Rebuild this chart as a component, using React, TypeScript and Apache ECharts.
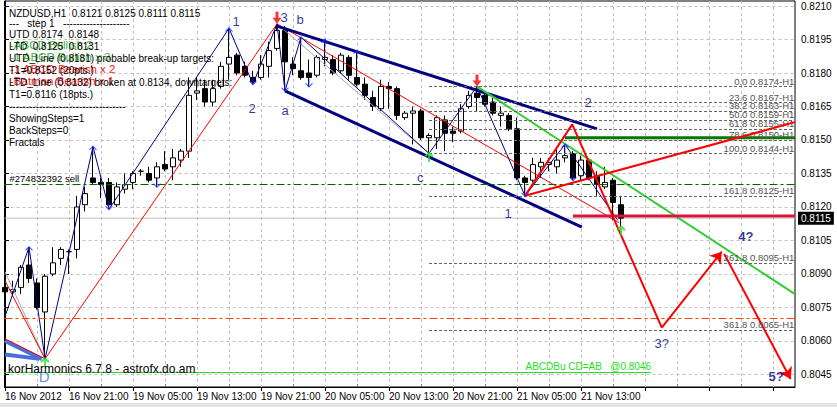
import React, { useEffect, useRef } from 'react';
import * as echarts from 'echarts';

// ---- candles (H1 bars, index 0 = 16 Nov 13:00) ----
const opens = [0.8084,0.8082,0.8084,0.8094,0.8086,0.8073,0.8090,0.8097,0.8100,0.8101,0.8121,0.8133,0.8131,0.8131,0.8121,0.8128,0.8131,0.8136,0.8135,0.8133,0.8139,0.8138,0.8141,0.8145,0.8171,0.8173,0.8167,0.8174,0.8184,0.8188,0.8183,0.8178,0.8178,0.8183,0.8191,0.8199,0.8184,0.8181,0.8180,0.8179,0.8186,0.8186,0.8181,0.8187,0.8178,0.8175,0.8169,0.8164,0.8174,0.8173,0.8160,0.8162,0.8163,0.8151,0.8151,0.8159,0.8154,0.8154,0.8165,0.8171,0.8170,0.8167,0.8161,0.8161,0.8155,0.8133,0.8132,0.8138,0.8139,0.8138,0.8142,0.8144,0.8134,0.8141,0.8134,0.8129,0.8132,0.8121];
const highs = [0.8086,0.8087,0.8094,0.8102,0.8088,0.8090,0.8102,0.8102,0.8101,0.8125,0.8129,0.8147,0.8133,0.8133,0.8131,0.8135,0.8136,0.8137,0.8138,0.8140,0.8145,0.8146,0.8146,0.8178,0.8178,0.8177,0.8177,0.8185,0.8200,0.8189,0.8185,0.8181,0.8188,0.8194,0.8202,0.8201,0.8187,0.8196,0.8186,0.8188,0.8195,0.8188,0.8189,0.8188,0.8190,0.8178,0.8172,0.8177,0.8176,0.8174,0.8163,0.8165,0.8164,0.8153,0.8161,0.8161,0.8156,0.8166,0.8172,0.8174,0.8172,0.8169,0.8165,0.8162,0.8160,0.8134,0.8142,0.8142,0.8142,0.8147,0.8148,0.8145,0.8143,0.8142,0.8136,0.8138,0.8133,0.8125];
const lows = [0.8080,0.8080,0.8081,0.8086,0.8074,0.8052,0.8089,0.8094,0.8090,0.8097,0.8118,0.8130,0.8124,0.8119,0.8120,0.8126,0.8128,0.8134,0.8131,0.8129,0.8136,0.8132,0.8138,0.8142,0.8168,0.8165,0.8165,0.8173,0.8177,0.8179,0.8178,0.8175,0.8177,0.8178,0.8190,0.8172,0.8179,0.8177,0.8174,0.8178,0.8183,0.8179,0.8180,0.8177,0.8174,0.8168,0.8163,0.8163,0.8164,0.8159,0.8159,0.8148,0.8150,0.8144,0.8146,0.8145,0.8149,0.8153,0.8164,0.8163,0.8165,0.8161,0.8156,0.8154,0.8132,0.8125,0.8131,0.8133,0.8136,0.8135,0.8140,0.8132,0.8132,0.8132,0.8125,0.8128,0.8114,0.8111];
const closes = [0.8082,0.8083,0.8093,0.8088,0.8075,0.8089,0.8095,0.8101,0.8100,0.8120,0.8126,0.8131,0.8130,0.8121,0.8129,0.8130,0.8135,0.8136,0.8132,0.8138,0.8137,0.8142,0.8145,0.8170,0.8172,0.8167,0.8173,0.8183,0.8187,0.8180,0.8179,0.8176,0.8184,0.8190,0.8199,0.8185,0.8182,0.8178,0.8178,0.8187,0.8187,0.8180,0.8188,0.8179,0.8175,0.8170,0.8165,0.8174,0.8173,0.8161,0.8162,0.8163,0.8151,0.8152,0.8160,0.8153,0.8153,0.8164,0.8170,0.8169,0.8166,0.8162,0.8162,0.8155,0.8133,0.8131,0.8139,0.8140,0.8140,0.8141,0.8143,0.8133,0.8141,0.8133,0.8130,0.8131,0.8122,0.8115];

// ---- axes ----
const timeLabels = ['16 Nov 2012','16 Nov 21:00','19 Nov 05:00','19 Nov 13:00','19 Nov 21:00','20 Nov 05:00','20 Nov 13:00','20 Nov 21:00','21 Nov 05:00','21 Nov 13:00'];
const timeLabelBars = [0,8,16,24,32,40,48,56,64,72];
const majorTickBars = [0,8,16,24,32,40,48,56,64,72,80,88,96];
const minorTickBars = [4,12,20,28,36,44,52,60,68,76,84,92];
const priceTicks = [0.8045,0.8060,0.8075,0.8090,0.8105,0.8120,0.8135,0.8150,0.8165,0.8180,0.8195,0.8210];
const bidPrice = 0.8115;

// ---- overlays (bar index, price) ----
const zigzag = [[0,0.8071],[3,0.8102],[5,0.8052],[11,0.8147],[13,0.8119],[28,0.8200],[31,0.8175],[34,0.8202],[35,0.8172],[37,0.8196],[53,0.8144],[59,0.8174],[65,0.8125],[70,0.8148],[76.6,0.8114]];
const redThinA = [[0,0.8087],[5,0.8052]];
const redThinB = [[0,0.8061],[5,0.8052]];
const redThinC = [[5,0.8052],[34,0.8202]];
const redThinD = [[34,0.8202],[76.75,0.8113]];
const grayThinA = [[0,0.8091],[5,0.8052]];
const grayThinB = [[34,0.8202],[53,0.8144]];
const blueBandA = [[0,0.8060],[4.6,0.8052]];
const blueBandB = [[0,0.8054],[4.3,0.8052]];
const channelUpper = [[34,0.8201],[74,0.8155]];
const channelLower = [[35,0.8172],[72.1,0.8111]];
const greenTrend = [[59,0.8174],[98.75,0.8081]];
const greenLevel = [[70,0.8151],[98.75,0.8151]];
const targetLevel = [[71,0.8116],[98.75,0.8116]];
const redTriangle = [[65,0.8125],[70.9,0.8157],[82.1,0.8066]];
const redRising = [[65,0.8125],[98.75,0.8158]];
const projArrows = [[[82.1,0.8066],[89.6,0.8100]],[[89.9,0.8099],[98.2,0.8043]]];
const orderPrice = 0.8130;
const orderLabel = '#274832392 sell';
const orangePrice = 0.8070;
const abcdPrice = 0.8046;
const abcdEndBar = 80.75;
const abcdLabel = 'ABCDBu CD=AB   @0.8046';

const fibStartBar = 53;
const fibPct = [0,23.6,38.2,50,61.8,78.6,100,161.8,261.8,361.8];
const fibPrices = [0.8174,0.8167,0.8163,0.8159,0.8155,0.8150,0.8144,0.8125,0.8095,0.8065];

const waveText = ['1','2','3','b','a','c','1','2','3?','4?','5?','D'];
const waveBar = [28.9,30.9,34.9,36.9,35.0,51.9,62.9,72.9,82.1,92.6,96.4,4.9];
const wavePrice = [0.8203,0.8164,0.8205,0.8204,0.8163,0.8133,0.8117,0.8167,0.8059,0.8107,0.8044,0.8044];

const upFractals = [[3,0.8102],[11,0.8147],[28,0.8200],[37,0.8196],[40,0.8195],[44,0.8190],[70,0.8148]];
const downFractals = [[13,0.8119],[19,0.8129],[31,0.8175],[35,0.8172],[38,0.8174],[65,0.8125],[71,0.8132]];
const greenFractals = [[5,0.8052],[53,0.8144],[77,0.8111]];
const redArrows = [[34,0.8202],[59,0.8174]];

const infoLines = ['NZDUSD,H1\u00a0\u00a00.8121 0.8125 0.8111 0.8115','---\u00a0\u00a0\u00a0step 1\u00a0\u00a0\u00a0--------------------','UTD 0.8174\u00a0\u00a00.8148','LTD\u00a0\u00a00.8125\u00a0\u00a00.8131','UTD_Line (0.8181) probable break-up targets:','T1=0.8152 (20pts.)','LTD_Line (0.8132) broken at 0.8134, downtargets:','T1=0.8116 (18pts.)','-----------------------------------','ShowingSteps=1','BackSteps=0','Fractals'];
const patternLines = ['-ABCD Bullish 2','-1 ABCD Bullish x 3','-1 ABCD Bearish x 2','-Batman Bearish x 1'];
const patternColors = ['#3cb43c','#3cb43c','#ff2020','#ff2020'];
const footerText = 'korHarmonics 6.7.8 - astrofx.do.am';

const FONT = '"Liberation Sans", Arial, sans-serif';
const X_MIN = -0.0625, X_MAX = 98.75;
const Y_MIN = 0.80394, Y_MAX = 0.821224;

function seg(data: number[][], color: string, width: number, z = 3, type: any = 'solid') {
  return { type: 'line', data, symbol: 'none', silent: true, clip: true, z, lineStyle: { color, width, type }, animation: false };
}

const UP_PATH = 'path://M0,4 L4,0 L8,4 M4,0 L4,10';
const DOWN_PATH = 'path://M0,6 L4,10 L8,6 M4,10 L4,0';
const RED_ARROW = 'path://M3,0 L6,0 L6,6 L9,6 L4.5,12 L0,6 L3,6 Z';

export default function App() {
  const ref = useRef<HTMLDivElement>(null);
  useEffect(() => {
    const chart = echarts.init(ref.current!, undefined, { renderer: 'svg' });
    const candleData = opens.map((o, i) => [i, o, closes[i], lows[i], highs[i]]);
    const option: any = {
      animation: false,
      backgroundColor: '#ffffff',
      textStyle: { fontFamily: FONT },
      grid: { left: 4.5, right: 42, top: 1, bottom: 20, show: true, borderColor: '#000', borderWidth: 1, backgroundColor: '#fff' },
      xAxis: [
        {
          type: 'value', min: X_MIN, max: X_MAX, position: 'bottom',
          axisLine: { show: true, onZero: false, lineStyle: { color: '#000' } },
          axisTick: { show: true, customValues: majorTickBars, length: 4, lineStyle: { color: '#000' } },
          axisLabel: {
            show: true, customValues: timeLabelBars, align: 'left', margin: 4,
            fontSize: 10, color: '#000', fontFamily: FONT,
            formatter: (v: number) => timeLabels[timeLabelBars.indexOf(Math.round(v))] ?? '',
          },
          splitLine: { show: true, lineStyle: { color: '#c0c0c0', type: [3, 3] } },
        },
        {
          type: 'value', min: X_MIN, max: X_MAX, position: 'bottom',
          axisLine: { show: false, onZero: false },
          axisTick: { show: true, inside: true, customValues: minorTickBars, length: 3, lineStyle: { color: '#808080' } },
          axisLabel: { show: false },
          splitLine: { show: true, lineStyle: { color: '#c0c0c0', type: [3, 3] } },
        },
      ],
      yAxis: [
        {
          type: 'value', min: Y_MIN, max: Y_MAX, position: 'right',
          axisLine: { show: true, lineStyle: { color: '#000' } },
          axisTick: { show: true, customValues: priceTicks, length: 4, lineStyle: { color: '#000' } },
          axisLabel: { show: true, customValues: priceTicks, margin: 6, fontSize: 10, color: '#000', fontFamily: FONT, formatter: (v: number) => v.toFixed(4) },
          splitLine: { show: true, lineStyle: { color: '#c0c0c0', type: [3, 3] } },
        },
        {
          type: 'value', min: Y_MIN, max: Y_MAX, position: 'right',
          axisLine: { show: false }, axisTick: { show: false }, splitLine: { show: false },
          axisLabel: { show: true, customValues: [bidPrice], margin: 3, fontSize: 10, color: '#fff', backgroundColor: '#000', padding: [2, 3, 1, 3], fontFamily: FONT, formatter: (v: number) => v.toFixed(4) },
        },
      ],
      series: [
        {
          type: 'line', silent: true, symbol: 'none', z: 1,
          data: [[X_MIN, bidPrice], [X_MAX, bidPrice]],
          lineStyle: { color: '#c0c0c0', width: 1 },
          markLine: {
            silent: true, symbol: ['none', 'none'], animation: false,
            data: [
              ...fibPct.map((f, k) => [
                { coord: [fibStartBar, fibPrices[k]], lineStyle: { color: '#666', width: 1, type: [3, 2] },
                  label: { show: true, position: 'insideEndTop', distance: [-1, 0], formatter: `${f.toFixed(1)} ${fibPrices[k].toFixed(4)}-H1`, color: '#555', fontSize: 9.5, fontFamily: FONT } },
                { coord: [X_MAX - 0.2, fibPrices[k]] },
              ]),
              [
                { coord: [X_MIN, orderPrice], lineStyle: { color: '#006400', width: 1, type: [8, 3, 3, 3] },
                  label: { show: true, position: 'insideStartTop', distance: [5, 1], formatter: orderLabel, color: '#000', fontSize: 9.5, fontFamily: FONT } },
                { coord: [X_MAX, orderPrice] },
              ],
              [
                { coord: [X_MIN, orangePrice], lineStyle: { color: '#ff4500', width: 1, type: [8, 3, 3, 3] }, label: { show: false } },
                { coord: [X_MAX, orangePrice] },
              ],
              [
                { coord: [X_MIN, abcdPrice], lineStyle: { color: '#22dd22', width: 1, type: 'solid' },
                  label: { show: true, position: 'insideEndTop', distance: [0, 1], formatter: abcdLabel, color: '#22dd22', fontSize: 10, fontFamily: FONT } },
                { coord: [abcdEndBar, abcdPrice] },
              ],
            ],
          },
        },
        {
          type: 'candlestick', data: candleData, barWidth: 5, z: 2, silent: true, clip: true,
          itemStyle: { color: '#ffffff', color0: '#000000', borderColor: '#000000', borderColor0: '#000000', borderColorDoji: '#000000', borderWidth: 1 },
        },
        seg(blueBandA, '#4a6fdc', 4, 3),
        seg(blueBandB, '#4a6fdc', 4, 3),
        seg(grayThinA, '#a8a8a8', 1, 3),
        seg(grayThinB, '#a8a8a8', 1, 3),
        seg(redThinA, '#ff0000', 1, 3),
        seg(redThinB, '#ff0000', 1, 3),
        seg(redThinC, '#ff0000', 1, 3),
        seg(redThinD, '#ff0000', 1, 3),
        seg(zigzag, '#000080', 1, 4),
        seg(channelUpper, '#000080', 3, 4),
        seg(channelLower, '#000080', 3, 4),
        seg(greenTrend, '#32cd32', 2, 4),
        seg(greenLevel, '#007a00', 3, 4),
        seg(targetLevel, '#dc143c', 3, 4),
        seg(redTriangle, '#ff0000', 2, 5),
        seg(redRising, '#ff0000', 2, 5),
        {
          type: 'lines', coordinateSystem: 'cartesian2d', silent: true, z: 5,
          symbol: ['none', 'arrow'], symbolSize: 11,
          lineStyle: { color: '#ff0000', width: 2, opacity: 1, curveness: 0 },
          data: projArrows.map((c) => ({ coords: c })),
        },
        {
          type: 'scatter', silent: true, z: 6, symbol: UP_PATH, symbolSize: [7, 9], symbolOffset: [0, 4],
          itemStyle: { color: 'rgba(0,0,0,0)', borderColor: '#2030ff', borderWidth: 1 },
          data: upFractals,
        },
        {
          type: 'scatter', silent: true, z: 6, symbol: DOWN_PATH, symbolSize: [7, 9], symbolOffset: [0, -4],
          itemStyle: { color: 'rgba(0,0,0,0)', borderColor: '#2030ff', borderWidth: 1 },
          data: downFractals,
        },
        {
          type: 'scatter', silent: true, z: 6, symbol: UP_PATH, symbolSize: [8, 9], symbolOffset: [0, 4],
          itemStyle: { color: 'rgba(0,0,0,0)', borderColor: '#22dd22', borderWidth: 2 },
          data: greenFractals,
        },
        {
          type: 'scatter', silent: true, z: 6, symbol: RED_ARROW, symbolSize: [9, 12], symbolOffset: [0, -6],
          itemStyle: { color: '#ff0000' },
          data: redArrows,
        },
        {
          type: 'scatter', silent: true, z: 7, symbolSize: 0,
          data: waveText.map((t, k) => ({
            value: [waveBar[k], wavePrice[k]], name: t,
            label: {
              show: true, position: 'inside', formatter: t,
              color: t === 'D' ? '#4a6fdc' : '#000080',
              fontSize: t === 'D' ? 15 : 13,
              fontWeight: t === '4?' || t === '5?' ? 'bold' : 'normal',
              fontFamily: FONT,
            },
          })),
        },
      ],
      graphic: [
        ...patternLines.map((t, k) => ({
          type: 'text', x: 10, y: 45 + 12 * k, z: 100, silent: true,
          style: { text: t, fill: patternColors[k], font: `11.5px ${FONT}`, verticalAlign: 'middle' },
        })),
        ...infoLines.map((t, k) => ({
          type: 'text', x: 9, y: [13, 23, 34, 46, 58.5, 70.5, 82.5, 94.5, 106.5, 118.5, 130.5, 142.5][k], z: 101, silent: true,
          style: { text: t, fill: '#000', font: `10px ${FONT}`, verticalAlign: 'middle' },
        })),
        {
          type: 'text', x: 8, y: 369, z: 101, silent: true,
          style: { text: footerText, fill: '#000', font: `12px ${FONT}`, verticalAlign: 'middle' },
        },
        { type: 'rect', z: 102, silent: true, shape: { x: 0, y: 403, width: 837, height: 4 }, style: { fill: '#e4e4e4' } },
      ],
    };
    chart.setOption(option);
    return () => chart.dispose();
  }, []);
  return <div ref={ref} style={{ position: 'fixed', left: 0, top: 0, width: 837, height: 407, background: '#fff' }} />;
}
